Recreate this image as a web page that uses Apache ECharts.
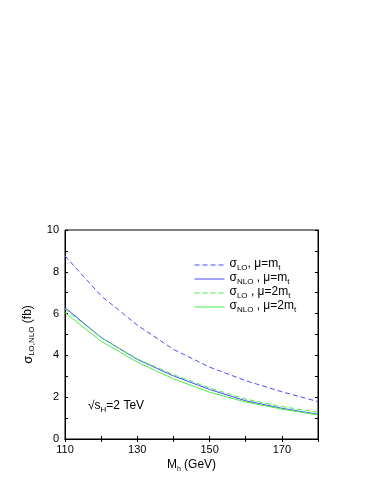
<!DOCTYPE html>
<html>
<head>
<meta charset="utf-8">
<script src="https://cdn.jsdelivr.net/npm/echarts@6/dist/echarts.min.js"></script>
<style>
html,body{margin:0;padding:0;background:#fff;}
#c{width:383px;height:495px;}
</style>
</head>
<body>
<div id="c"></div>
<script>
var massH = [110, 120, 130, 140, 150, 160, 170, 180];
var sigmaLO_mt   = [8.76, 6.85, 5.45, 4.29, 3.44, 2.79, 2.26, 1.79];
var sigmaNLO_mt  = [6.28, 4.86, 3.81, 3.02, 2.37, 1.83, 1.47, 1.18];
var sigmaLO_2mt  = [6.22, 4.85, 3.83, 3.08, 2.44, 1.91, 1.55, 1.28];
var sigmaNLO_2mt = [6.04, 4.68, 3.68, 2.88, 2.24, 1.77, 1.43, 1.15];
var xTickLabels = [110, 130, 150, 170];
var yTickLabels = [0, 2, 4, 6, 8, 10];

function pairs(ys){ return massH.map(function(x,i){ return [x, ys[i]]; }); }

var FONT = 'Liberation Sans';
var BLUE = '#4a4aff';
var GREEN = '#44f044';

var legendLabels = {
  'LO_mt':   '{s|σ}{sub|LO}{s|, μ=m}{sub|t}',
  'NLO_mt':  '{s|σ}{sub|NLO}{s| , μ=m}{sub|t}',
  'LO_2mt':  '{s|σ}{sub|LO}{s| , μ=2m}{sub|t}',
  'NLO_2mt': '{s|σ}{sub|NLO}{s| , μ=2m}{sub|t}'
};
var rich = {
  s: {fontFamily: FONT, fontSize: 12, color: '#000', lineHeight: 14, verticalAlign: 'top'},
  sub: {fontFamily: FONT, fontSize: 8, color: '#000', lineHeight: 9, verticalAlign: 'bottom'}
};

function mkLine(name, data, color, dashed){
  return {
    name: name, type: 'line', data: pairs(data),
    symbol: 'none', showSymbol: false, smooth: false,
    xAxisIndex: 0, yAxisIndex: 0,
    lineStyle: {color: color, width: 1, type: dashed ? [5, 3] : 'solid'},
    itemStyle: {color: color},
    animation: false
  };
}

var chart = echarts.init(document.getElementById('c'), null, {renderer: 'canvas'});
var axisBase = {
  axisLine: {show: true, lineStyle: {color: '#000', width: 1}},
  axisTick: {show: true, inside: true, length: 3, lineStyle: {color: '#000'}},
  splitLine: {show: false}
};
chart.setOption({
  animation: false,
  grid: {left: 65, right: 65, top: 230, bottom: 56, show: true, borderColor: '#000', borderWidth: 1},
  xAxis: [
    Object.assign({}, axisBase, {
      type: 'value', min: 110, max: 180, interval: 10, position: 'bottom',
      axisLabel: {
        fontFamily: FONT, fontSize: 11, color: '#000', margin: 5,
        formatter: function(v){ return xTickLabels.indexOf(v) >= 0 ? String(v) : ''; }
      },
      name: '{s|M}{sub|h}{s| (GeV)}', nameLocation: 'middle', nameGap: 20,
      nameTextStyle: {rich: {
        s: {fontFamily: FONT, fontSize: 12, color: '#000', lineHeight: 14, verticalAlign: 'top'},
        sub: {fontFamily: FONT, fontSize: 7, color: '#000', lineHeight: 8, verticalAlign: 'bottom'}
      }}
    }),
    Object.assign({}, axisBase, {
      type: 'value', min: 110, max: 180, interval: 10, position: 'top',
      axisLabel: {show: false}
    })
  ],
  yAxis: [
    Object.assign({}, axisBase, {
      type: 'value', min: 0, max: 10, interval: 1, position: 'left',
      axisLabel: {
        fontFamily: FONT, fontSize: 11, color: '#000', margin: 6,
        formatter: function(v){ return yTickLabels.indexOf(v) >= 0 ? String(v) : ''; }
      },
      name: '{g|σ}{sub|LO,NLO}{s| (fb)}', nameLocation: 'middle', nameGap: 19, nameRotate: 90,
      nameTextStyle: {rich: {
        g: {fontFamily: FONT, fontSize: 13, color: '#000', lineHeight: 14, verticalAlign: 'top'},
        s: {fontFamily: FONT, fontSize: 12, color: '#000', lineHeight: 14, verticalAlign: 'top'},
        sub: {fontFamily: FONT, fontSize: 8, color: '#000', lineHeight: 9, verticalAlign: 'bottom'}
      }}
    }),
    Object.assign({}, axisBase, {
      type: 'value', min: 0, max: 10, interval: 1, position: 'right',
      axisLabel: {show: false}
    })
  ],
  legend: {
    orient: 'vertical', left: 189, top: 253, itemWidth: 30, itemHeight: 10, itemGap: 0,
    data: ['LO_mt', 'NLO_mt', 'LO_2mt', 'NLO_2mt'],
    formatter: function(n){ return legendLabels[n]; },
    textStyle: {rich: rich},
    itemStyle: {opacity: 0},
    lineStyle: {width: 1},
    selectedMode: false
  },
  graphic: [{
    type: 'text', left: 88, top: 400,
    style: {
      text: '{s|√s}{sub|H}{s|=2 TeV}',
      rich: {
        s: {fontFamily: FONT, fontSize: 12, fill: '#000', lineHeight: 14, verticalAlign: 'top'},
        sub: {fontFamily: FONT, fontSize: 8, fill: '#000', lineHeight: 9, verticalAlign: 'bottom'}
      }
    }
  }],
  series: [
    mkLine('LO_mt', sigmaLO_mt, BLUE, true),
    mkLine('NLO_mt', sigmaNLO_mt, BLUE, false),
    mkLine('LO_2mt', sigmaLO_2mt, GREEN, true),
    mkLine('NLO_2mt', sigmaNLO_2mt, GREEN, false)
  ]
});
</script>
</body>
</html>
